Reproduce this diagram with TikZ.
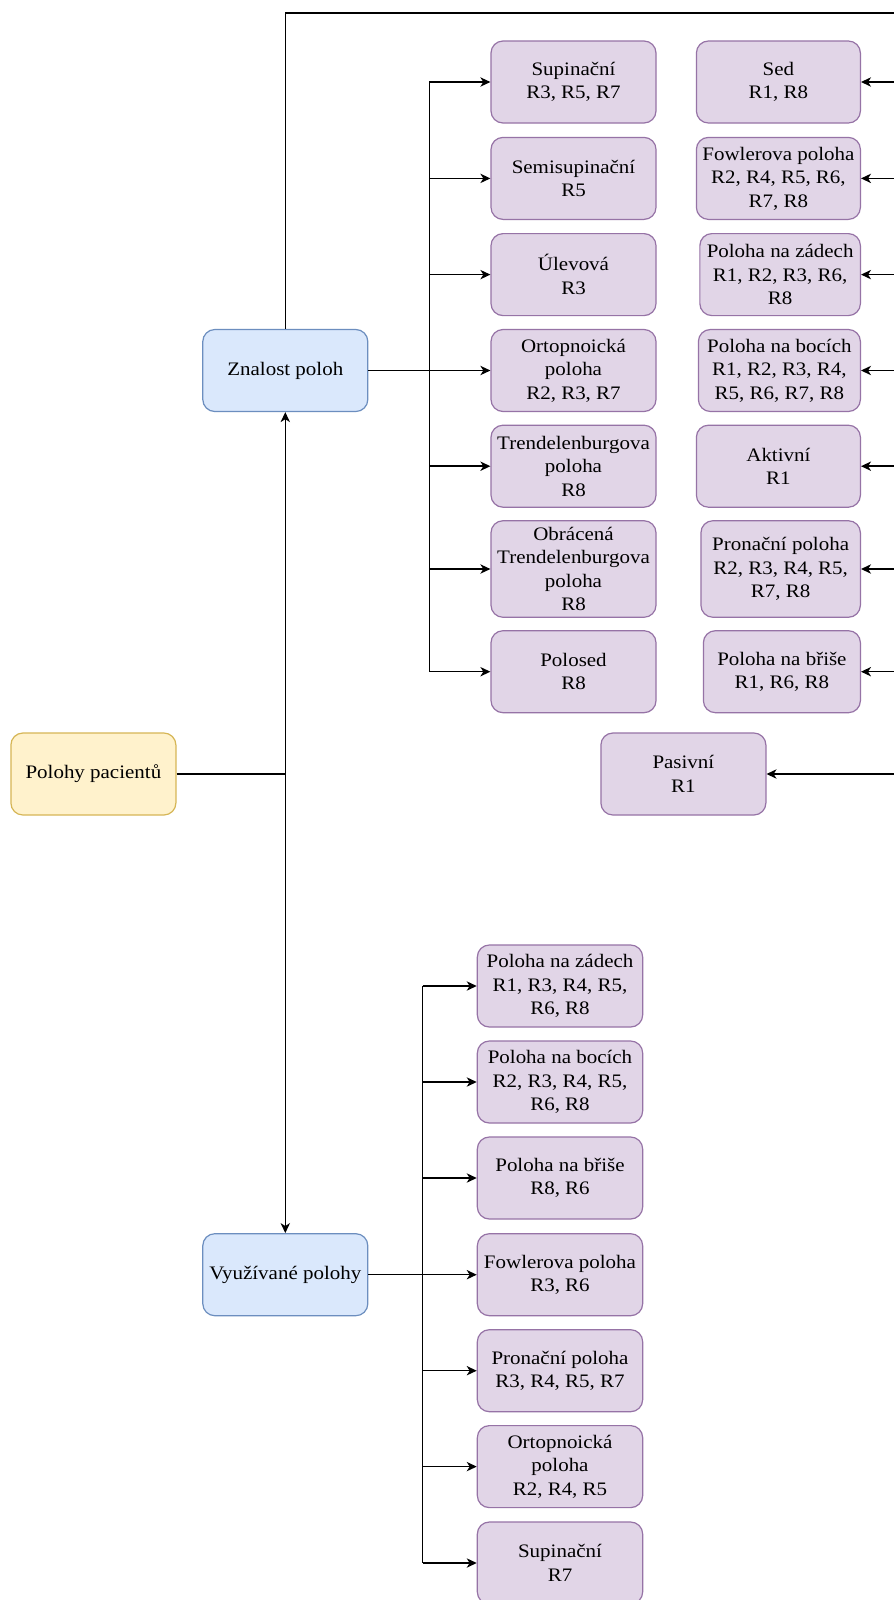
\documentclass[tikz,border=0pt]{standalone}
\usepackage{fontspec}
\setmainfont{Liberation Serif}[FakeStretch=1.1]
\usetikzlibrary{arrows.meta}
\definecolor{purpfill}{HTML}{E1D5E7}
\definecolor{purpline}{HTML}{9673A6}
\definecolor{bluefill}{HTML}{DAE8FC}
\definecolor{blueline}{HTML}{6C8EBF}
\definecolor{yelfill}{HTML}{FFF2CC}
\definecolor{yelline}{HTML}{D6B656}
\begin{document}
\begin{tikzpicture}[x=0.75pt,y=-0.75pt,
  box/.style={rectangle, rounded corners=9pt, line width=0.9pt, align=center,
    inner sep=1pt, font=\fontsize{14.3}{17.6}\selectfont,
    minimum width=123.75pt, minimum height=61.5pt},
  leaf/.style={box, fill=purpfill, draw=purpline},
  tall/.style={minimum height=72.4pt},
  topic/.style={box, fill=bluefill, draw=blueline},
  rootbox/.style={box, fill=yelfill, draw=yelline},
  wire/.style={line width=1.1pt},
  link/.style={wire, -{Stealth[length=7.5pt,width=7pt,inset=2.2pt]}}]
\useasboundingbox[fill=white] (0,0) rectangle (893,1600);

% main topics
\node[rootbox] (root) at (93.4,774) {Polohy pacientů};
\node[topic] (zn) at (285.3,370.5) {Znalost poloh};
\node[topic] (vy) at (285.3,1274.7) {Využívané polohy};
\coordinate (junc) at (285.3,774);

% first group, left column
\node[leaf] (L1) at (573.5,82) {Supinační\\R3, R5, R7};
\node[leaf] (L2) at (573.5,178.4) {Semisupinační\\R5};
\node[leaf] (L3) at (573.5,274.6) {Úlevová\\R3};
\node[leaf] (L4) at (573.5,370.5) {Ortopnoická\\poloha\\R2, R3, R7};
\node[leaf] (L5) at (573.5,466.2) {Trendelenburgova\\poloha\\R8};
\node[leaf,tall] (L6) at (573.5,569) {Obrácená\\Trendelenburgova\\poloha\\R8};
\node[leaf] (L7) at (573.5,671.7) {Polosed\\R8};

% first group, right column
\node[leaf,anchor=east,minimum width=123pt] (R1) at (861,82) {Sed\\R1, R8};
\node[leaf,anchor=east,minimum width=123pt] (R2) at (861,178.4) {Fowlerova poloha\\R2, R4, R5, R6,\\R7, R8};
\node[leaf,anchor=east,minimum width=120.4pt] (R3) at (861,274.6) {Poloha na zádech\\R1, R2, R3, R6,\\R8};
\node[leaf,anchor=east,minimum width=121.5pt] (R4) at (861,370.5) {Poloha na bocích\\R1, R2, R3, R4,\\R5, R6, R7, R8};
\node[leaf,anchor=east,minimum width=123pt] (R5) at (861,466.2) {Aktivní\\R1};
\node[leaf,tall,anchor=east,minimum width=119.6pt] (R6) at (861,569) {Pronační poloha\\R2, R3, R4, R5,\\R7, R8};
\node[leaf,anchor=east,minimum width=117.75pt] (R7) at (861,671.7) {Poloha na břiše\\R1, R6, R8};
\node[leaf] (pas) at (683.4,774) {Pasivní\\R1};

% second group
\node[leaf,minimum width=124pt] (B1) at (560,986) {Poloha na zádech\\R1, R3, R4, R5,\\R6, R8};
\node[leaf,minimum width=124pt] (B2) at (560,1082) {Poloha na bocích\\R2, R3, R4, R5,\\R6, R8};
\node[leaf,minimum width=124pt] (B3) at (560,1178) {Poloha na břiše\\R8, R6};
\node[leaf,minimum width=124pt] (B4) at (560,1274.7) {Fowlerova poloha\\R3, R6};
\node[leaf,minimum width=124pt] (B5) at (560,1370.7) {Pronační poloha\\R3, R4, R5, R7};
\node[leaf,minimum width=124pt] (B6) at (560,1466.6) {Ortopnoická\\poloha\\R2, R4, R5};
\node[leaf,minimum width=124pt] (B7) at (560,1563) {Supinační\\R7};

% routing points
\coordinate (bz) at (429.4,370.5);
\coordinate (bv) at (422.7,1274.7);
\coordinate (rtop) at (900,13);
\coordinate (rbot) at (900,774);

% trunk
\draw[wire] (root.east) -- (junc);
\draw[link] (junc) -- (zn.south);
\draw[link] (junc) -- (vy.north);

% first group, left branch
\draw[link] (zn.east) -- (L4.west);
\draw[wire] (bz |- L1.west) -- (bz |- L7.west);
\foreach \n in {1,2,3,5,6,7} \draw[link] (bz |- L\n.west) -- (L\n.west);

% first group, right branch
\draw[wire] (zn.north) |- (rtop) -- (rbot);
\foreach \n in {1,...,7} \draw[link] (rtop |- R\n.east) -- (R\n.east);
\draw[link] (rbot) -- (pas.east);

% second group
\draw[link] (vy.east) -- (B4.west);
\draw[wire] (bv |- B1.west) -- (bv |- B7.west);
\foreach \n in {1,2,3,5,6,7} \draw[link] (bv |- B\n.west) -- (B\n.west);
\end{tikzpicture}
\end{document}
